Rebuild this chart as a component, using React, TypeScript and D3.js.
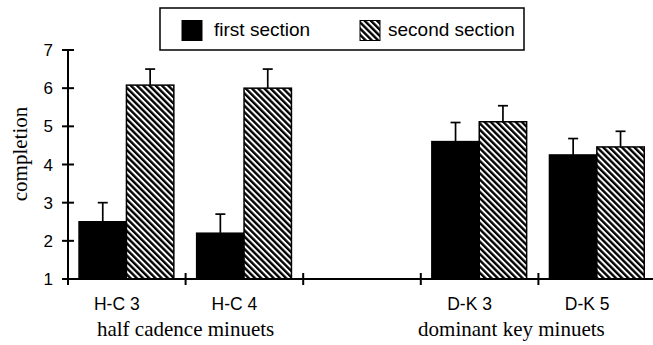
import React, { useEffect, useRef } from "react";
import * as d3 from "d3";

const categories = ["H-C 3", "H-C 4", "", "D-K 3", "D-K 5"];
const barCategories = ["H-C 3", "H-C 4", "D-K 3", "D-K 5"];
const series = ["first section", "second section"];
const firstMeans = [2.5, 2.2, 4.6, 4.25];
const firstErr = [0.5, 0.5, 0.5, 0.43];
const secondMeans = [6.08, 6.0, 5.12, 4.46];
const secondErr = [0.42, 0.5, 0.42, 0.41];
const yTicks = [1, 2, 3, 4, 5, 6, 7];
const groupLabels = ["half cadence minuets", "dominant key minuets"];

const App = () => {
  const ref = useRef<SVGSVGElement>(null);

  useEffect(() => {
    const width = 653;
    const height = 345;
    const svg = d3.select(ref.current).attr("width", width).attr("height", height);
    svg.selectAll("*").remove();

    const sans = "'Liberation Sans', Arial, sans-serif";
    const serif = "'Liberation Serif', 'Times New Roman', serif";

    // diagonal hatch for the second section
    const defs = svg.append("defs");
    defs.append("pattern")
      .attr("id", "hatch")
      .attr("patternUnits", "userSpaceOnUse")
      .attr("width", 4.4)
      .attr("height", 4.4)
      .attr("patternTransform", "rotate(-45)")
      .call(p => p.append("rect").attr("width", 4.4).attr("height", 4.4).attr("fill", "#fff"))
      .append("line")
      .attr("x1", 1.2).attr("y1", 0).attr("x2", 1.2).attr("y2", 4.4)
      .attr("stroke", "#000").attr("stroke-width", 2.4);

    const x = d3.scaleBand().domain(categories).range([68, 656]);
    const xSub = d3.scaleBand().domain(series)
      .range([x.bandwidth() * 0.094, x.bandwidth() * 0.9]);
    const y = d3.scaleLinear().domain([1, 7]).range([279, 50]);

    const rows = barCategories.map((c, i) => [
      { cat: c, s: series[0], v: firstMeans[i], e: firstErr[i] },
      { cat: c, s: series[1], v: secondMeans[i], e: secondErr[i] },
    ]).flat();

    // error bars (upward only)
    const eb = svg.append("g").attr("stroke", "#000").attr("stroke-width", 1.7);
    rows.forEach(d => {
      const cx = x(d.cat)! + xSub(d.s)! + xSub.bandwidth() / 2;
      eb.append("line").attr("x1", cx).attr("x2", cx).attr("y1", y(d.v)).attr("y2", y(d.v + d.e));
      eb.append("line").attr("x1", cx - 5).attr("x2", cx + 5).attr("y1", y(d.v + d.e)).attr("y2", y(d.v + d.e));
    });

    // bars
    svg.append("g").selectAll("rect")
      .data(rows)
      .enter()
      .append("rect")
      .attr("x", d => x(d.cat)! + xSub(d.s)!)
      .attr("y", d => y(d.v))
      .attr("width", xSub.bandwidth())
      .attr("height", d => y(1) - y(d.v))
      .attr("fill", d => d.s === series[0] ? "#000" : "url(#hatch)")
      .attr("stroke", "#000")
      .attr("stroke-width", 1.5);

    // y axis
    const ax = svg.append("g").attr("stroke", "#000").attr("stroke-width", 2);
    ax.append("line").attr("x1", 68).attr("x2", 68).attr("y1", y(7)).attr("y2", y(1));
    yTicks.forEach(t => {
      ax.append("line").attr("x1", 62).attr("x2", 74).attr("y1", y(t)).attr("y2", y(t));
    });
    svg.append("g").selectAll("text")
      .data(yTicks)
      .enter()
      .append("text")
      .attr("x", 53)
      .attr("y", d => y(d))
      .attr("dy", "0.36em")
      .attr("text-anchor", "end")
      .style("font-family", sans)
      .style("font-size", "17px")
      .text(d => d);

    // x axis
    ax.append("line").attr("x1", 62).attr("x2", width).attr("y1", y(1)).attr("y2", y(1));
    categories.forEach(c => {
      const xt = x(c)!;
      ax.append("line").attr("x1", xt).attr("x2", xt).attr("y1", y(1) - 6).attr("y2", y(1) + 6);
    });

    svg.append("g").selectAll("text")
      .data(barCategories)
      .enter()
      .append("text")
      .attr("x", d => x(d)! + x.bandwidth() / 2 - 10)
      .attr("y", 310)
      .attr("text-anchor", "middle")
      .style("font-family", sans)
      .style("font-size", "17.5px")
      .text(d => d);

    svg.append("text")
      .attr("x", x("H-C 4")!)
      .attr("y", 336)
      .attr("text-anchor", "middle")
      .style("font-family", serif)
      .style("font-size", "21px")
      .text(groupLabels[0]);
    svg.append("text")
      .attr("x", x("D-K 5")! - 27)
      .attr("y", 336)
      .attr("text-anchor", "middle")
      .style("font-family", serif)
      .style("font-size", "21px")
      .text(groupLabels[1]);

    // y title
    svg.append("text")
      .attr("transform", `translate(27, 154) rotate(-90)`)
      .attr("text-anchor", "middle")
      .style("font-family", serif)
      .style("font-size", "21px")
      .text("completion");

    // legend
    const lg = svg.append("g");
    lg.append("rect").attr("x", 160).attr("y", 8).attr("width", 364).attr("height", 42)
      .attr("fill", "#fff").attr("stroke", "#000").attr("stroke-width", 1.5);
    const legendX = [182, 360];
    series.forEach((s, i) => {
      lg.append("rect").attr("x", legendX[i]).attr("y", 20.5).attr("width", 20).attr("height", 20)
        .attr("fill", i === 0 ? "#000" : "url(#hatch)").attr("stroke", "#000").attr("stroke-width", 1);
      lg.append("text").attr("x", legendX[i] + (i === 0 ? 32 : 28)).attr("y", 36)
        .style("font-family", sans).style("font-size", "19px").text(s);
    });
  }, []);

  return <svg ref={ref} style={{ position: "absolute", left: 0, top: 0, background: "#fff" }}></svg>;
};

export default App;
